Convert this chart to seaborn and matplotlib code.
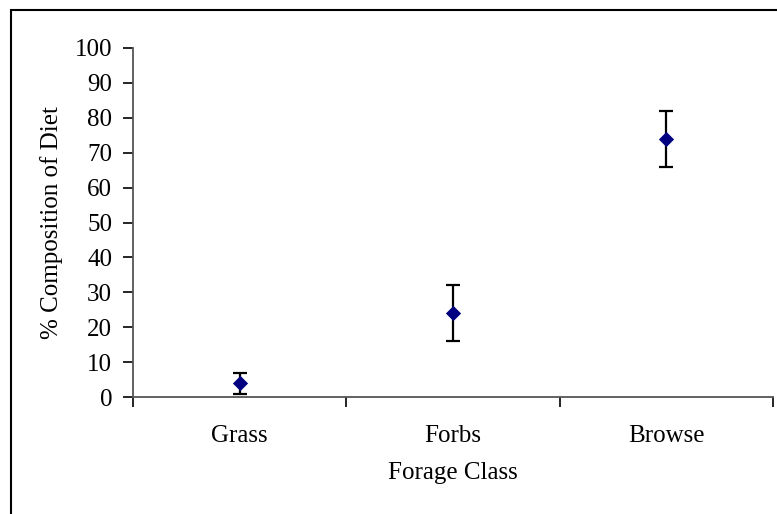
import matplotlib
matplotlib.use("Agg")
import matplotlib.pyplot as plt
import seaborn as sns
import pandas as pd
from matplotlib.patches import Rectangle

categories = ["Grass", "Forbs", "Browse"]
means = [4, 24, 74]
errors = [3, 8, 8]
y_ticks = list(range(0, 101, 10))

sns.set_style("white")
plt.rcParams['font.family'] = ['Liberation Serif', 'DejaVu Serif']
plt.rcParams['text.color'] = 'black'
plt.rcParams['axes.labelcolor'] = 'black'
plt.rcParams['xtick.color'] = 'black'
plt.rcParams['ytick.color'] = 'black'

FS = 18

fig = plt.figure(figsize=(7.77, 5.14), dpi=100)
ax = fig.add_axes([133/777, 1-397/514, (773-133)/777, (397-48)/514])

df = pd.DataFrame({"cls": categories, "val": means})
ax.errorbar(range(len(categories)), means, yerr=errors, fmt='none', ecolor='black',
            elinewidth=1.6, capsize=4.8, capthick=1.6, zorder=2)
sns.scatterplot(data=df, x="cls", y="val", marker='D', s=60, color='#000080',
                edgecolor='#000080', linewidth=0, ax=ax, zorder=3)

ax.set_xlim(-0.5, len(categories) - 0.5)
ax.set_ylim(0, 100)
ax.set_yticks(y_ticks)
ax.set_yticklabels([str(t) for t in y_ticks], fontsize=FS)
ax.set_xticks(range(len(categories)))
ax.set_xticklabels(categories, fontsize=FS)
ax.tick_params(axis='x', which='major', bottom=True, length=0, pad=20, labelcolor='black')
ax.set_xticks([i - 0.5 for i in range(len(categories) + 1)], minor=True)
ax.tick_params(axis='x', which='minor', bottom=True, length=7, width=1.2, color='black', direction='out')
ax.tick_params(axis='y', which='major', left=True, length=7, width=1.2, color='black',
               direction='out', pad=8, labelcolor='black')

for s in ['top', 'right']:
    ax.spines[s].set_visible(False)
for s in ['left', 'bottom']:
    ax.spines[s].set_color('#555555')
    ax.spines[s].set_linewidth(1.3)

ax.set_xlabel("Forage Class", fontsize=FS, labelpad=11, color='black')
ax.set_ylabel("% Composition of Diet", fontsize=FS, labelpad=8.5, color='black')

fig.patches.append(Rectangle((11/777, -0.1), 1.2, 1 - 10/514 + 0.1, transform=fig.transFigure,
                             fill=False, edgecolor='black', linewidth=1.5))

fig.savefig("out.png", dpi=100)
